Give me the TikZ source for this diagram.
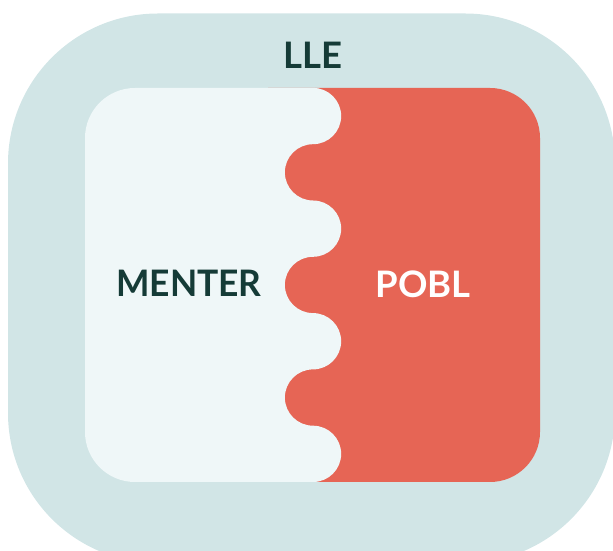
\documentclass[tikz,border=0pt]{standalone}
\usepackage{fontspec}
\newfontfamily\labfont{Lato}
\definecolor{outerc}{HTML}{D1E5E6}
\definecolor{whitec}{HTML}{EFF7F8}
\definecolor{redc}{HTML}{E66555}
\definecolor{textc}{HTML}{153B37}
\begin{document}
\begin{tikzpicture}[x=1pt,y=1pt,
  lab/.style={inner sep=0pt,font=\labfont\bfseries\fontsize{36.5}{36.5}\selectfont}]
\useasboundingbox (0,0) rectangle (613,551);
\clip (0,0) rectangle (613,551);
% outer
\fill[outerc,rounded corners=150pt] (8,-12) rectangle (615,537.5);
% red box
\fill[redc] (268,69) -- (490,69) arc[start angle=-90,end angle=0,radius=50]
  -- (540,413) arc[start angle=0,end angle=90,radius=50] -- (268,463) -- cycle;
% white wavy box
\fill[whitec] (313,463) -- (135,463) arc[start angle=90,end angle=180,radius=50]
  -- (85,119) arc[start angle=180,end angle=270,radius=50] -- (313,69)
  arc[start angle=-90,end angle=90,radius=28.15]
  arc[start angle=270,end angle=90,radius=28.15]
  arc[start angle=-90,end angle=90,radius=28.15]
  arc[start angle=270,end angle=90,radius=28.15]
  arc[start angle=-90,end angle=90,radius=28.15]
  arc[start angle=270,end angle=90,radius=28.15]
  arc[start angle=-90,end angle=90,radius=28.15] -- cycle;
\node[lab,text=textc] (lle) at (312.5,496) {LLE};
\node[lab,text=textc,xscale=0.97] (menter) at (189,267.3) {MENTER};
\node[lab,text=white] (pobl) at (423,267) {POBL};
\end{tikzpicture}
\end{document}
